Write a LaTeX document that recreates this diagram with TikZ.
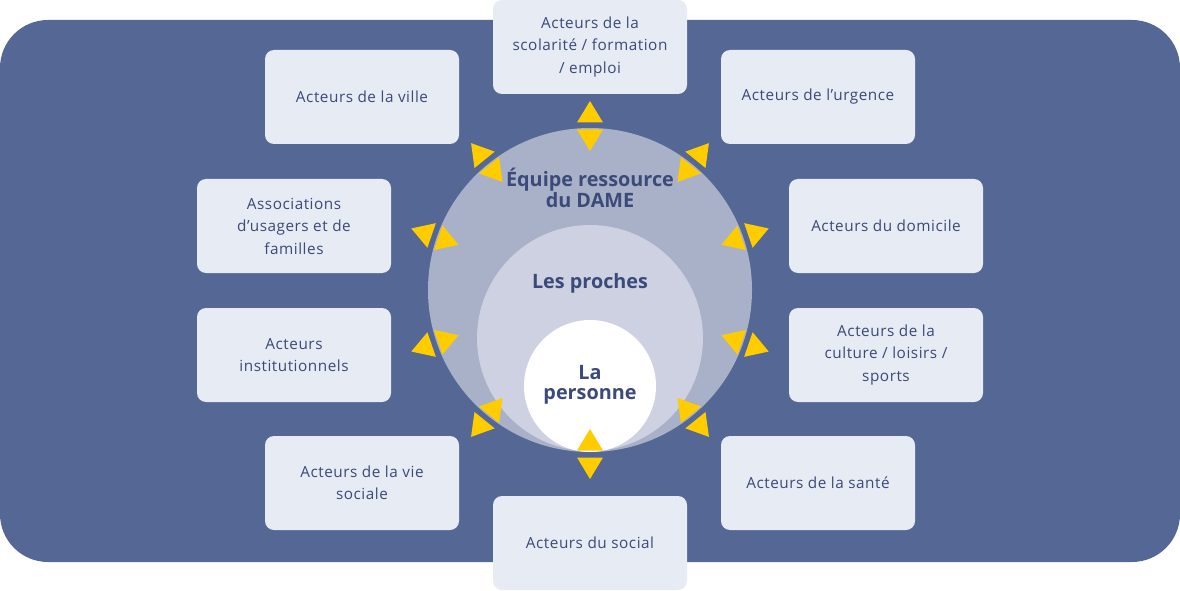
\documentclass[tikz,border=0pt]{standalone}
\usepackage{fontspec}
\setmainfont{Open Sans}
\newfontfamily\boxfont[LetterSpace=3.5]{Open Sans}
\definecolor{bgblue}{HTML}{556794}
\definecolor{ring1}{HTML}{A9B1C9}
\definecolor{ring2}{HTML}{CDD1E1}
\definecolor{boxfill}{HTML}{E7EBF3}
\definecolor{txt}{HTML}{3B4A78}
\definecolor{arrowyellow}{HTML}{FFCC00}
\tikzset{
  actor/.style={fill=boxfill, rounded corners=9pt, minimum width=194pt, minimum height=94pt,
    inner sep=0pt, align=center, text=txt, font=\boxfont\fontsize{15.3}{22.5}\selectfont},
  ringlabel/.style={text=txt, align=center, font=\fontsize{19.8}{20.5}\selectfont\bfseries},
  tri/.style={fill=arrowyellow}
}
\begin{document}
\begin{tikzpicture}[x=1pt,y=1pt]
\useasboundingbox (0,0) rectangle (1180,590);
\fill[bgblue, rounded corners=48pt] (0,28) rectangle (1180,570);
% circles
\coordinate (C) at (590,300);
\fill[ring1] (C) circle[radius=162];
\fill[ring2] (590,252) circle[radius=113];
\fill[white] (590,204) circle[radius=66];
\node[ringlabel] (equipe) at (590,402) {Équipe ressource\\du DAME};
\node[ringlabel] (proches) at (590,307) {Les proches};
\node[ringlabel] (personne) at (590,205) {La\\personne};
% boxes
\node[actor] (scol) at (590,543) {Acteurs de la\\scolarité / formation\\/ emploi};
\node[actor] (ville) at (362,493) {Acteurs de la ville};
\node[actor] (urgence) at (818,493) {Acteurs de l’urgence};
\node[actor] (assoc) at (294,364) {Associations\\d’usagers et de\\familles};
\node[actor] (domicile) at (886,364) {Acteurs du domicile};
\node[actor] (instit) at (294,235) {Acteurs\\institutionnels};
\node[actor] (culture) at (886,235) {Acteurs de la\\culture / loisirs /\\sports};
\node[actor] (viesoc) at (362,107) {Acteurs de la vie\\sociale};
\node[actor] (sante) at (818,107) {Acteurs de la santé};
\node[actor] (social) at (590,47) {Acteurs du social};
% double arrow heads
\foreach \a in {90,51,129,19,161,199,341,231,309,270}{
  \begin{scope}[shift={(C)}, rotate=\a]
    \fill[tri] (167.5,-13) -- (167.5,13) -- (189,0) -- cycle;
    \fill[tri] (160.5,-13) -- (160.5,13) -- (139,0) -- cycle;
  \end{scope}
}
\end{tikzpicture}
\end{document}
